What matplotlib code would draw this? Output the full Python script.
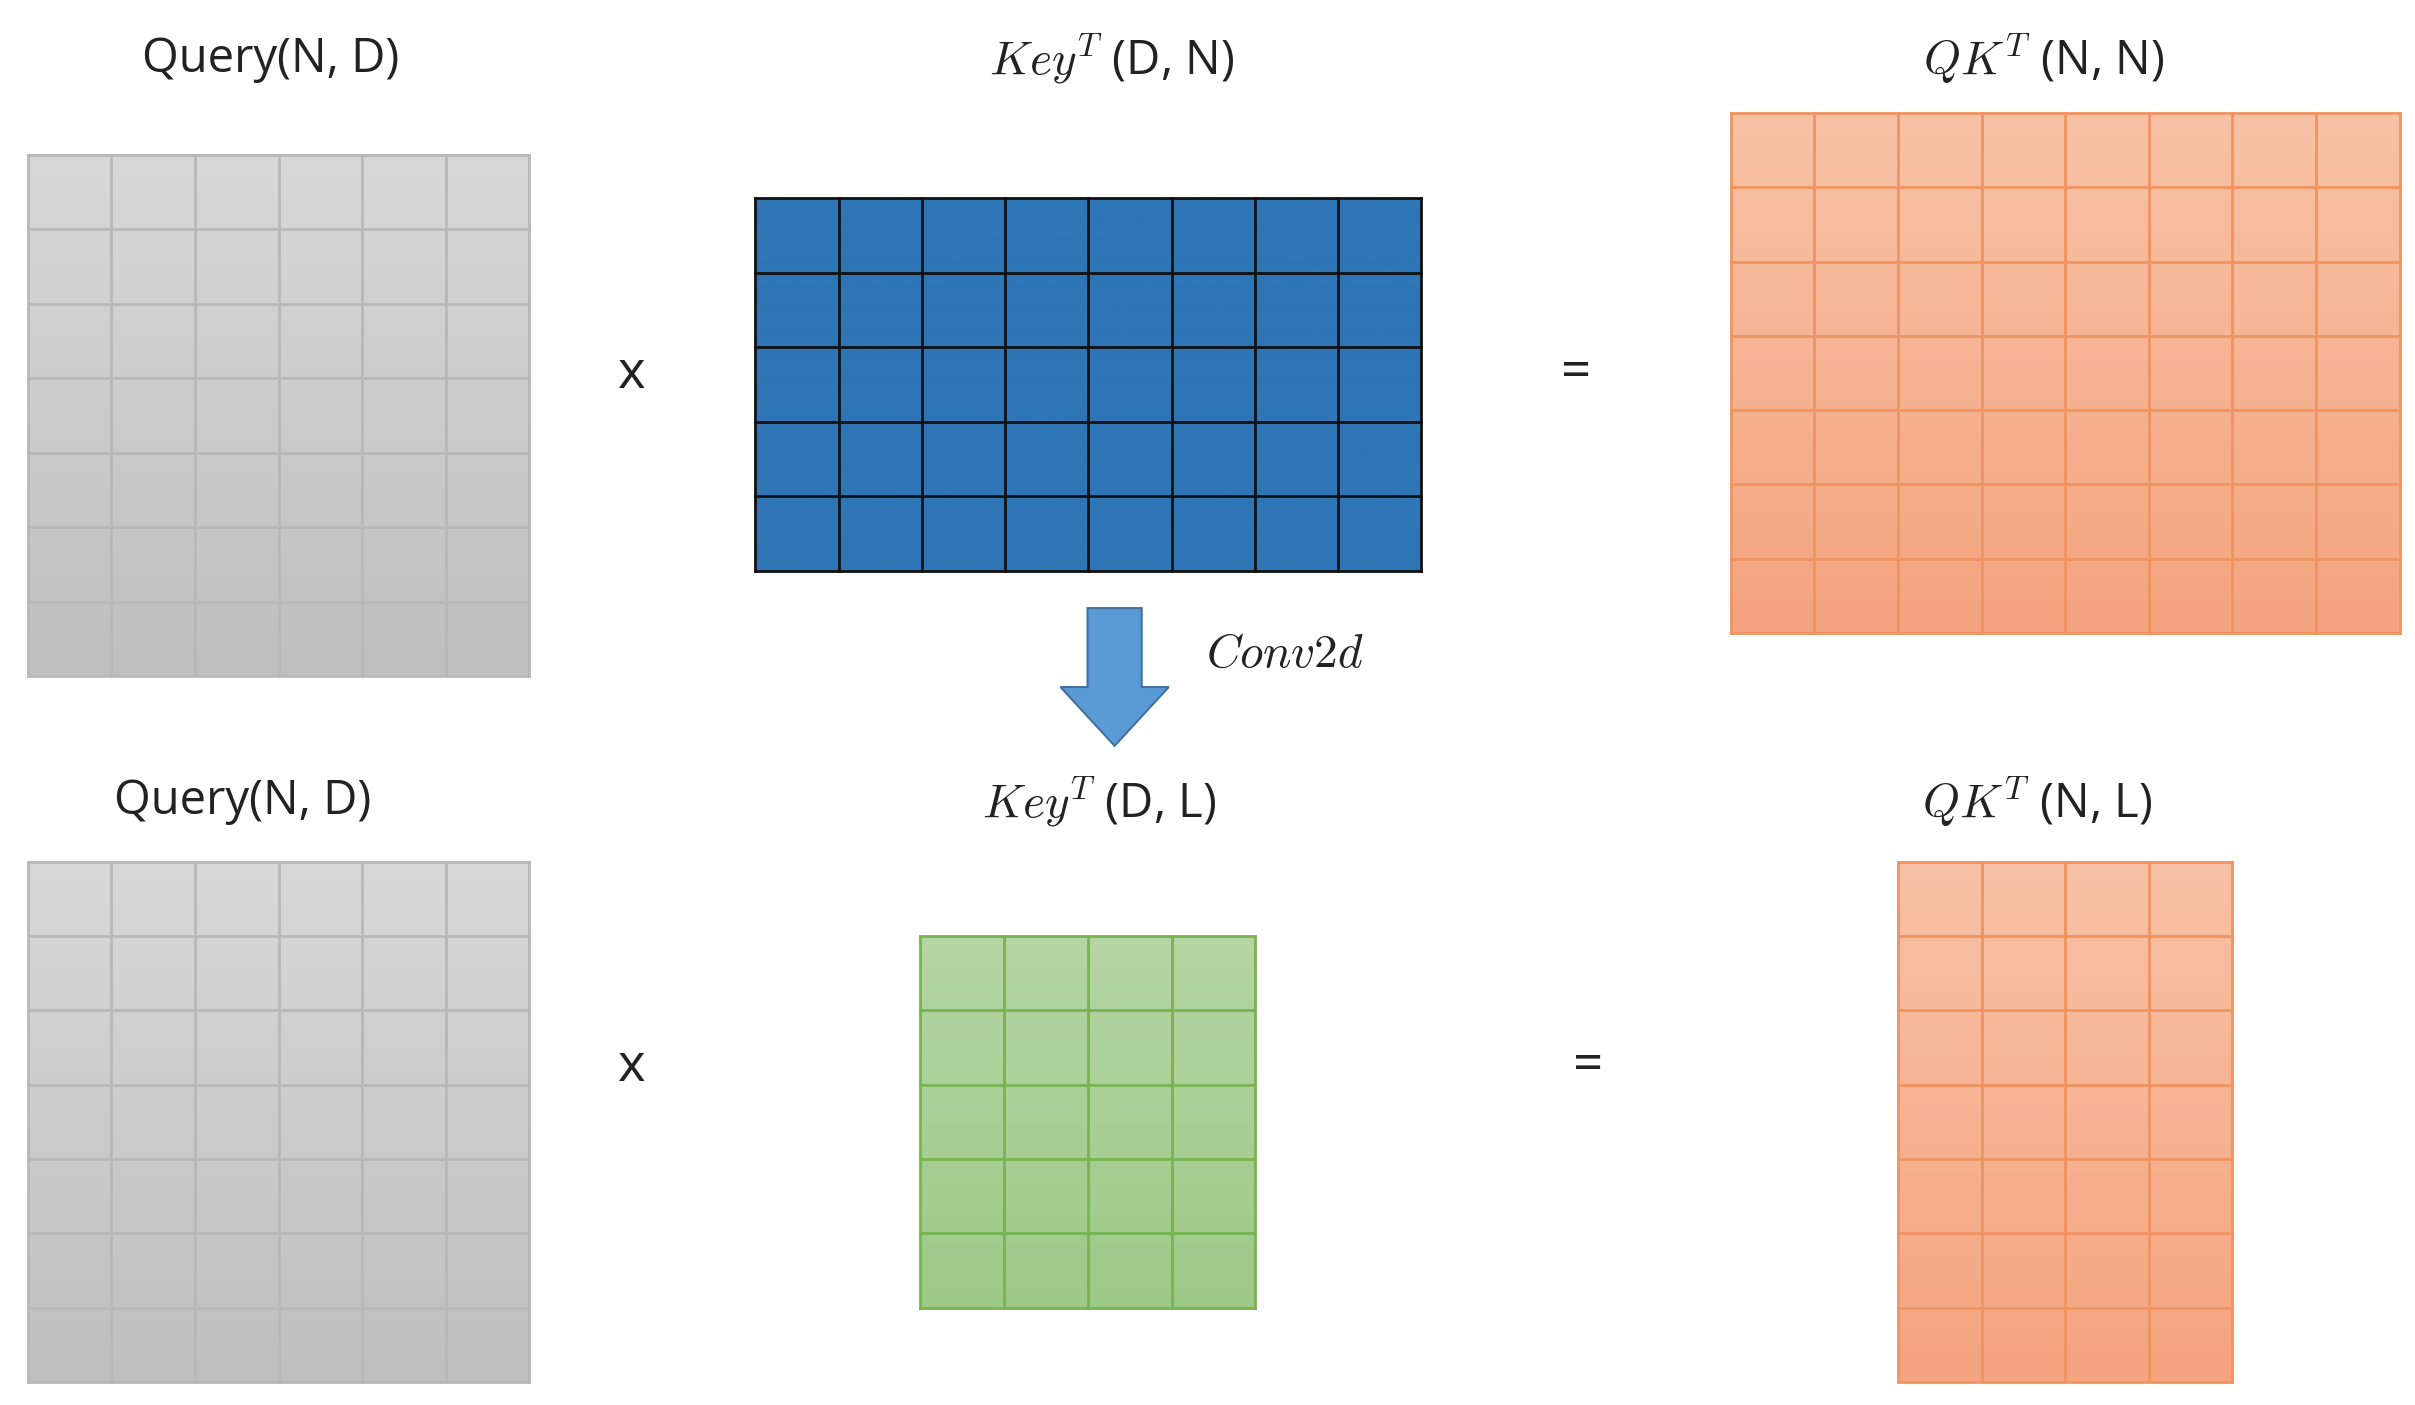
import numpy as np
import matplotlib
matplotlib.use("Agg")
import matplotlib.pyplot as plt
from matplotlib.colors import to_rgb
from matplotlib.patches import FancyArrow, Rectangle

plt.rcParams['mathtext.fontset'] = 'cm'
plt.rcParams['font.family'] = ['Open Sans', 'DejaVu Sans']

# matrices: name, (left, top, right, bottom) in reference px, cols, rows, colour top, colour bottom, line colour
grid_names = ["query_top", "key_top", "qk_top", "query_bot", "key_bot", "qk_bot"]
grid_boxes = [(18, 100, 342, 437), (488, 128, 918, 369), (1118, 73, 1550, 409),
              (18, 557, 342, 893), (594, 605, 811, 845), (1226, 557, 1442, 893)]
grid_cols = [6, 8, 8, 6, 4, 4]
grid_rows = [7, 5, 7, 7, 5, 7]
grid_top_col = ["#d8d8d8", "#2e75b6", "#f8c2a6", "#d8d8d8", "#b5d5a3", "#f8c2a6"]
grid_bot_col = ["#bfbfbf", "#2e75b6", "#f4a47e", "#bfbfbf", "#9dc987", "#f4a47e"]
grid_line_col = ["#b8b8b8", "#111111", "#f0935f", "#b8b8b8", "#78b352", "#f0935f"]
grid_lw = [2.0, 2.0, 2.0, 2.0, 2.0, 2.0]

labels = ["Query(N, D)", r"$Key^T$ (D, N)", r"$QK^T$ (N, N)",
          "Query(N, D)", r"$Key^T$ (D, L)", r"$QK^T$ (N, L)"]
label_pos = [(175, 38), (718, 38), (1320, 38), (157, 518), (710, 518), (1316, 518)]
ops = ["x", "=", "x", "="]
op_pos = [(408, 242), (1018, 242), (408, 690), (1026, 690)]

W, H = 1560, 908
fig = plt.figure(figsize=(24.15, 14.05), dpi=100)
ax = fig.add_axes([0, 0, 1, 1])
ax.set_xlim(0, W)
ax.set_ylim(H, 0)
ax.axis("off")

for box, nc, nr, ct, cb, lc, lw in zip(grid_boxes, grid_cols, grid_rows, grid_top_col,
                                        grid_bot_col, grid_line_col, grid_lw):
    l, t, r, b = box
    g = np.linspace(0, 1, 256)[:, None, None]
    img = np.array(to_rgb(ct))[None, None, :] * (1 - g) + np.array(to_rgb(cb))[None, None, :] * g
    ax.imshow(img, extent=(l, r, b, t), aspect="auto", zorder=1, interpolation="bilinear")
    for x in np.linspace(l, r, nc + 1):
        ax.plot([x, x], [t, b], color=lc, lw=lw, zorder=2)
    for y in np.linspace(t, b, nr + 1):
        ax.plot([l, r], [y, y], color=lc, lw=lw, zorder=2)

for txt, (x, y) in zip(labels, label_pos):
    ax.text(x, y, txt, fontsize=34, ha="center", va="center", color="#222222")
for txt, (x, y) in zip(ops, op_pos):
    ax.text(x, y, txt, fontsize=38, ha="center", va="center", color="#222222")

ax.add_patch(FancyArrow(720, 393, 0, 89, width=35, head_width=70, head_length=38,
                        length_includes_head=True, facecolor="#5b9bd5",
                        edgecolor="#41719c", lw=1.5, zorder=3))
ax.text(830, 423, r"$Conv2d$", fontsize=34, ha="center", va="center", color="#222222")

ax.set_xlim(0, W)
ax.set_ylim(H, 0)
fig.savefig("out.png", dpi=100)
